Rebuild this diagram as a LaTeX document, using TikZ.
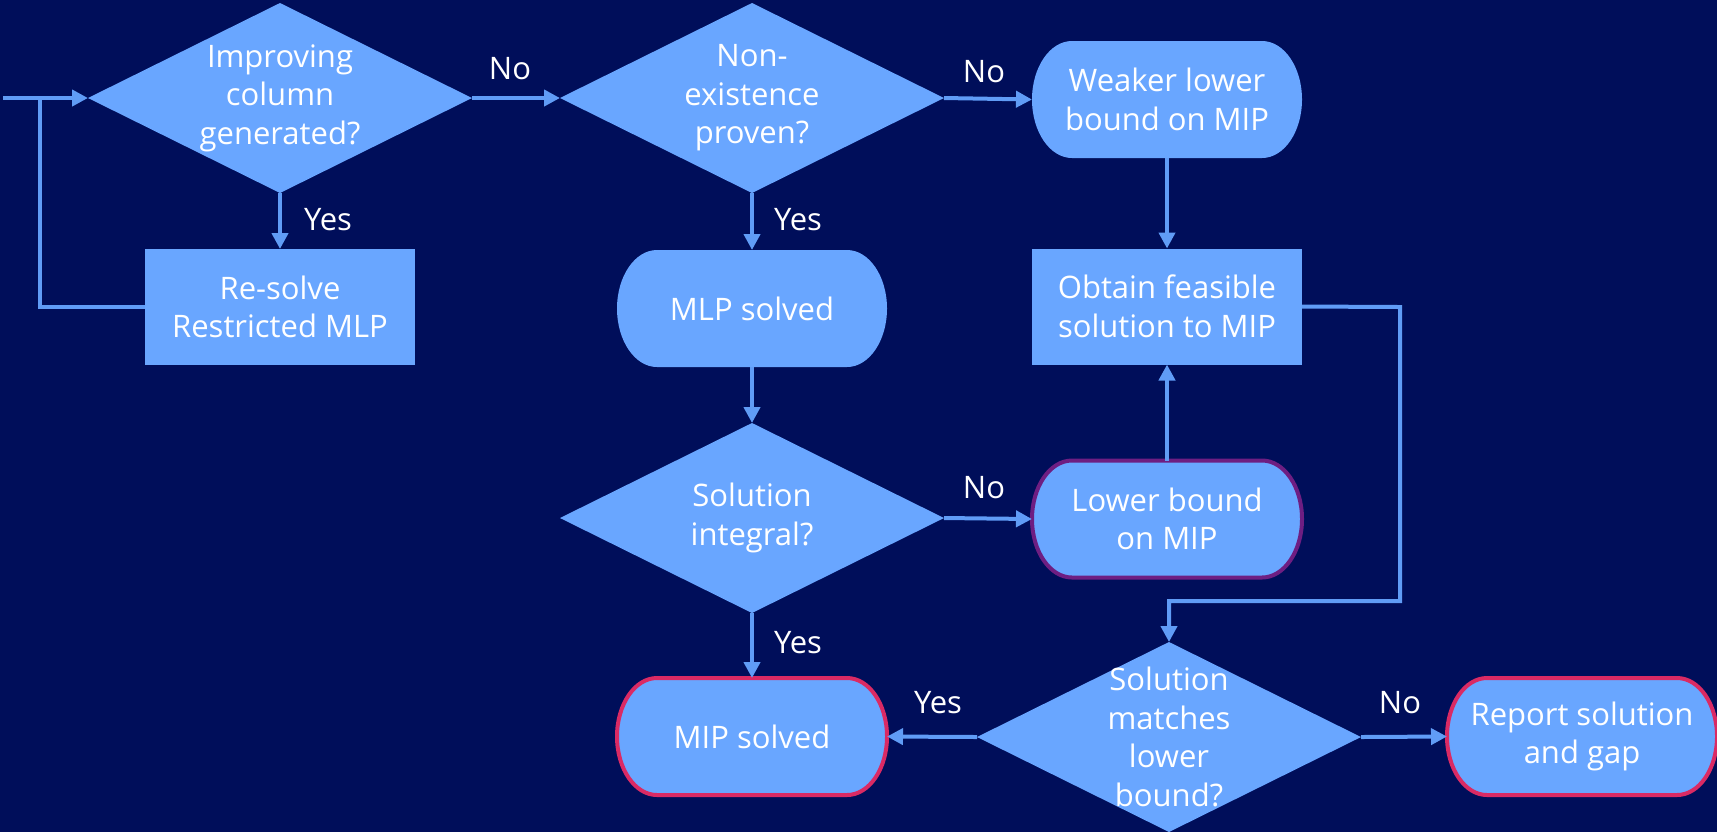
\documentclass[tikz,border=0pt]{standalone}
\usepackage{fontspec}
\setmainfont{Open Sans}
\usetikzlibrary{shapes.geometric,arrows.meta}
\pgfdeclarelayer{bg}\pgfdeclarelayer{back}
\pgfsetlayers{bg,back,main}
\definecolor{navy}{RGB}{0,14,90}
\definecolor{shp}{RGB}{105,166,255}
\definecolor{lin}{RGB}{96,156,246}
\definecolor{purp}{RGB}{110,30,130}
\definecolor{crim}{RGB}{218,42,100}
\newcommand\termpath[2]{\path[#2] ([xshift=20pt]#1.north west) -- ([xshift=-20pt]#1.north east) arc[start angle=90,end angle=-90,x radius=20pt,y radius=29.25pt] -- ([xshift=20pt]#1.south west) arc[start angle=270,end angle=90,x radius=20pt,y radius=29.25pt] -- cycle;}
\begin{document}
\begin{tikzpicture}[x=0.5pt,y=-0.5pt,
 base/.style={text=white, font=\fontsize{15.5}{19.25}\selectfont, align=center, inner sep=0pt, outer sep=0pt},
 dia/.style={shape=diamond, fill=shp, minimum width=192pt, minimum height=95pt, inner sep=0pt, outer sep=0pt},
 box/.style={base, shape=rectangle, fill=shp, minimum width=135pt, minimum height=58pt},
 term/.style={base, shape=rectangle, minimum width=135pt, minimum height=58.5pt},
 arr/.style={draw=lin, line width=2pt, -{Triangle[length=8pt,width=8pt]}},
 conn/.style={draw=lin, line width=2pt},
 lab/.style={base}]
\useasboundingbox (0,0) rectangle (1717,832);
\begin{pgfonlayer}{bg}
\fill[navy] (0,0) rectangle (1717,832);
\end{pgfonlayer}

% decisions
\node[dia] (d1) at (280,98) {};
\node[base] (d1t) at (d1) {Improving\\column\\generated?};
\node[dia] (d2) at (752,98) {};
\node[base] (d2t) at (d2) {Non-\\existence\\proven?};
\node[dia] (d3) at (752,518) {};
\node[base] (d3t) at (d3) {Solution\\integral?};
\node[dia] (d4) at (1169,737) {};
\node[base] (d4t) at (d4) {Solution\\matches\\lower\\bound?};

% process boxes
\node[box] (rs) at (280,307) {Re-solve\\Restricted MLP};
\node[box] (ob) at (1167,306.5) {Obtain feasible\\solution to MIP};

% terminals
\node[term] (wk) at (1167,99.5) {Weaker lower\\bound on MIP};
\node[term] (ml) at (752,308.5) {MLP solved};
\node[term] (lb) at (1167,519) {Lower bound\\on MIP};
\node[term] (mi) at (752,736.5) {MIP solved};
\node[term] (rp) at (1582,736.5) {Report solution\\and gap};

\begin{pgfonlayer}{back}
\termpath{wk}{fill=shp}
\termpath{ml}{fill=shp}
\termpath{lb}{fill=shp, draw=purp, line width=2pt}
\termpath{mi}{fill=shp, draw=crim, line width=2pt}
\termpath{rp}{fill=shp, draw=crim, line width=2pt}
\end{pgfonlayer}

% connectors
\coordinate (start) at (3,98);
\coordinate (loop) at (40,98);
\coordinate (c1) at (1400,307);
\coordinate (c2) at (1400,601);
\draw[arr] (start) -- (d1.west);
\draw[conn] (rs.west) -| (loop);
\draw[arr] (d1.south) -- (rs.north);
\draw[arr] (d1.east) -- (d2.west);
\draw[arr] (d2.east) -- (wk.west);
\draw[arr] (d2.south) -- (ml.north);
\draw[arr] (wk.south) -- (ob.north);
\draw[arr] (ml.south) -- (d3.north);
\draw[arr] (d3.east) -- (lb.west);
\draw[arr] (lb.north) -- (ob.south);
\draw[arr] (d3.south) -- (mi.north);
\draw[arr] (ob.east) -- (c1) -- (c2) -| (d4.north);
\draw[arr] (d4.west) -- (mi.east);
\draw[arr] (d4.east) -- (rp.west);

% labels
\node[lab] (l1) at (328,220) {Yes};
\node[lab] (l2) at (510,69) {No};
\node[lab] (l3) at (798,220) {Yes};
\node[lab] (l4) at (984,72) {No};
\node[lab] (l5) at (984,488) {No};
\node[lab] (l6) at (798,643) {Yes};
\node[lab] (l7) at (938,703) {Yes};
\node[lab] (l8) at (1400,703) {No};
\end{tikzpicture}
\end{document}
